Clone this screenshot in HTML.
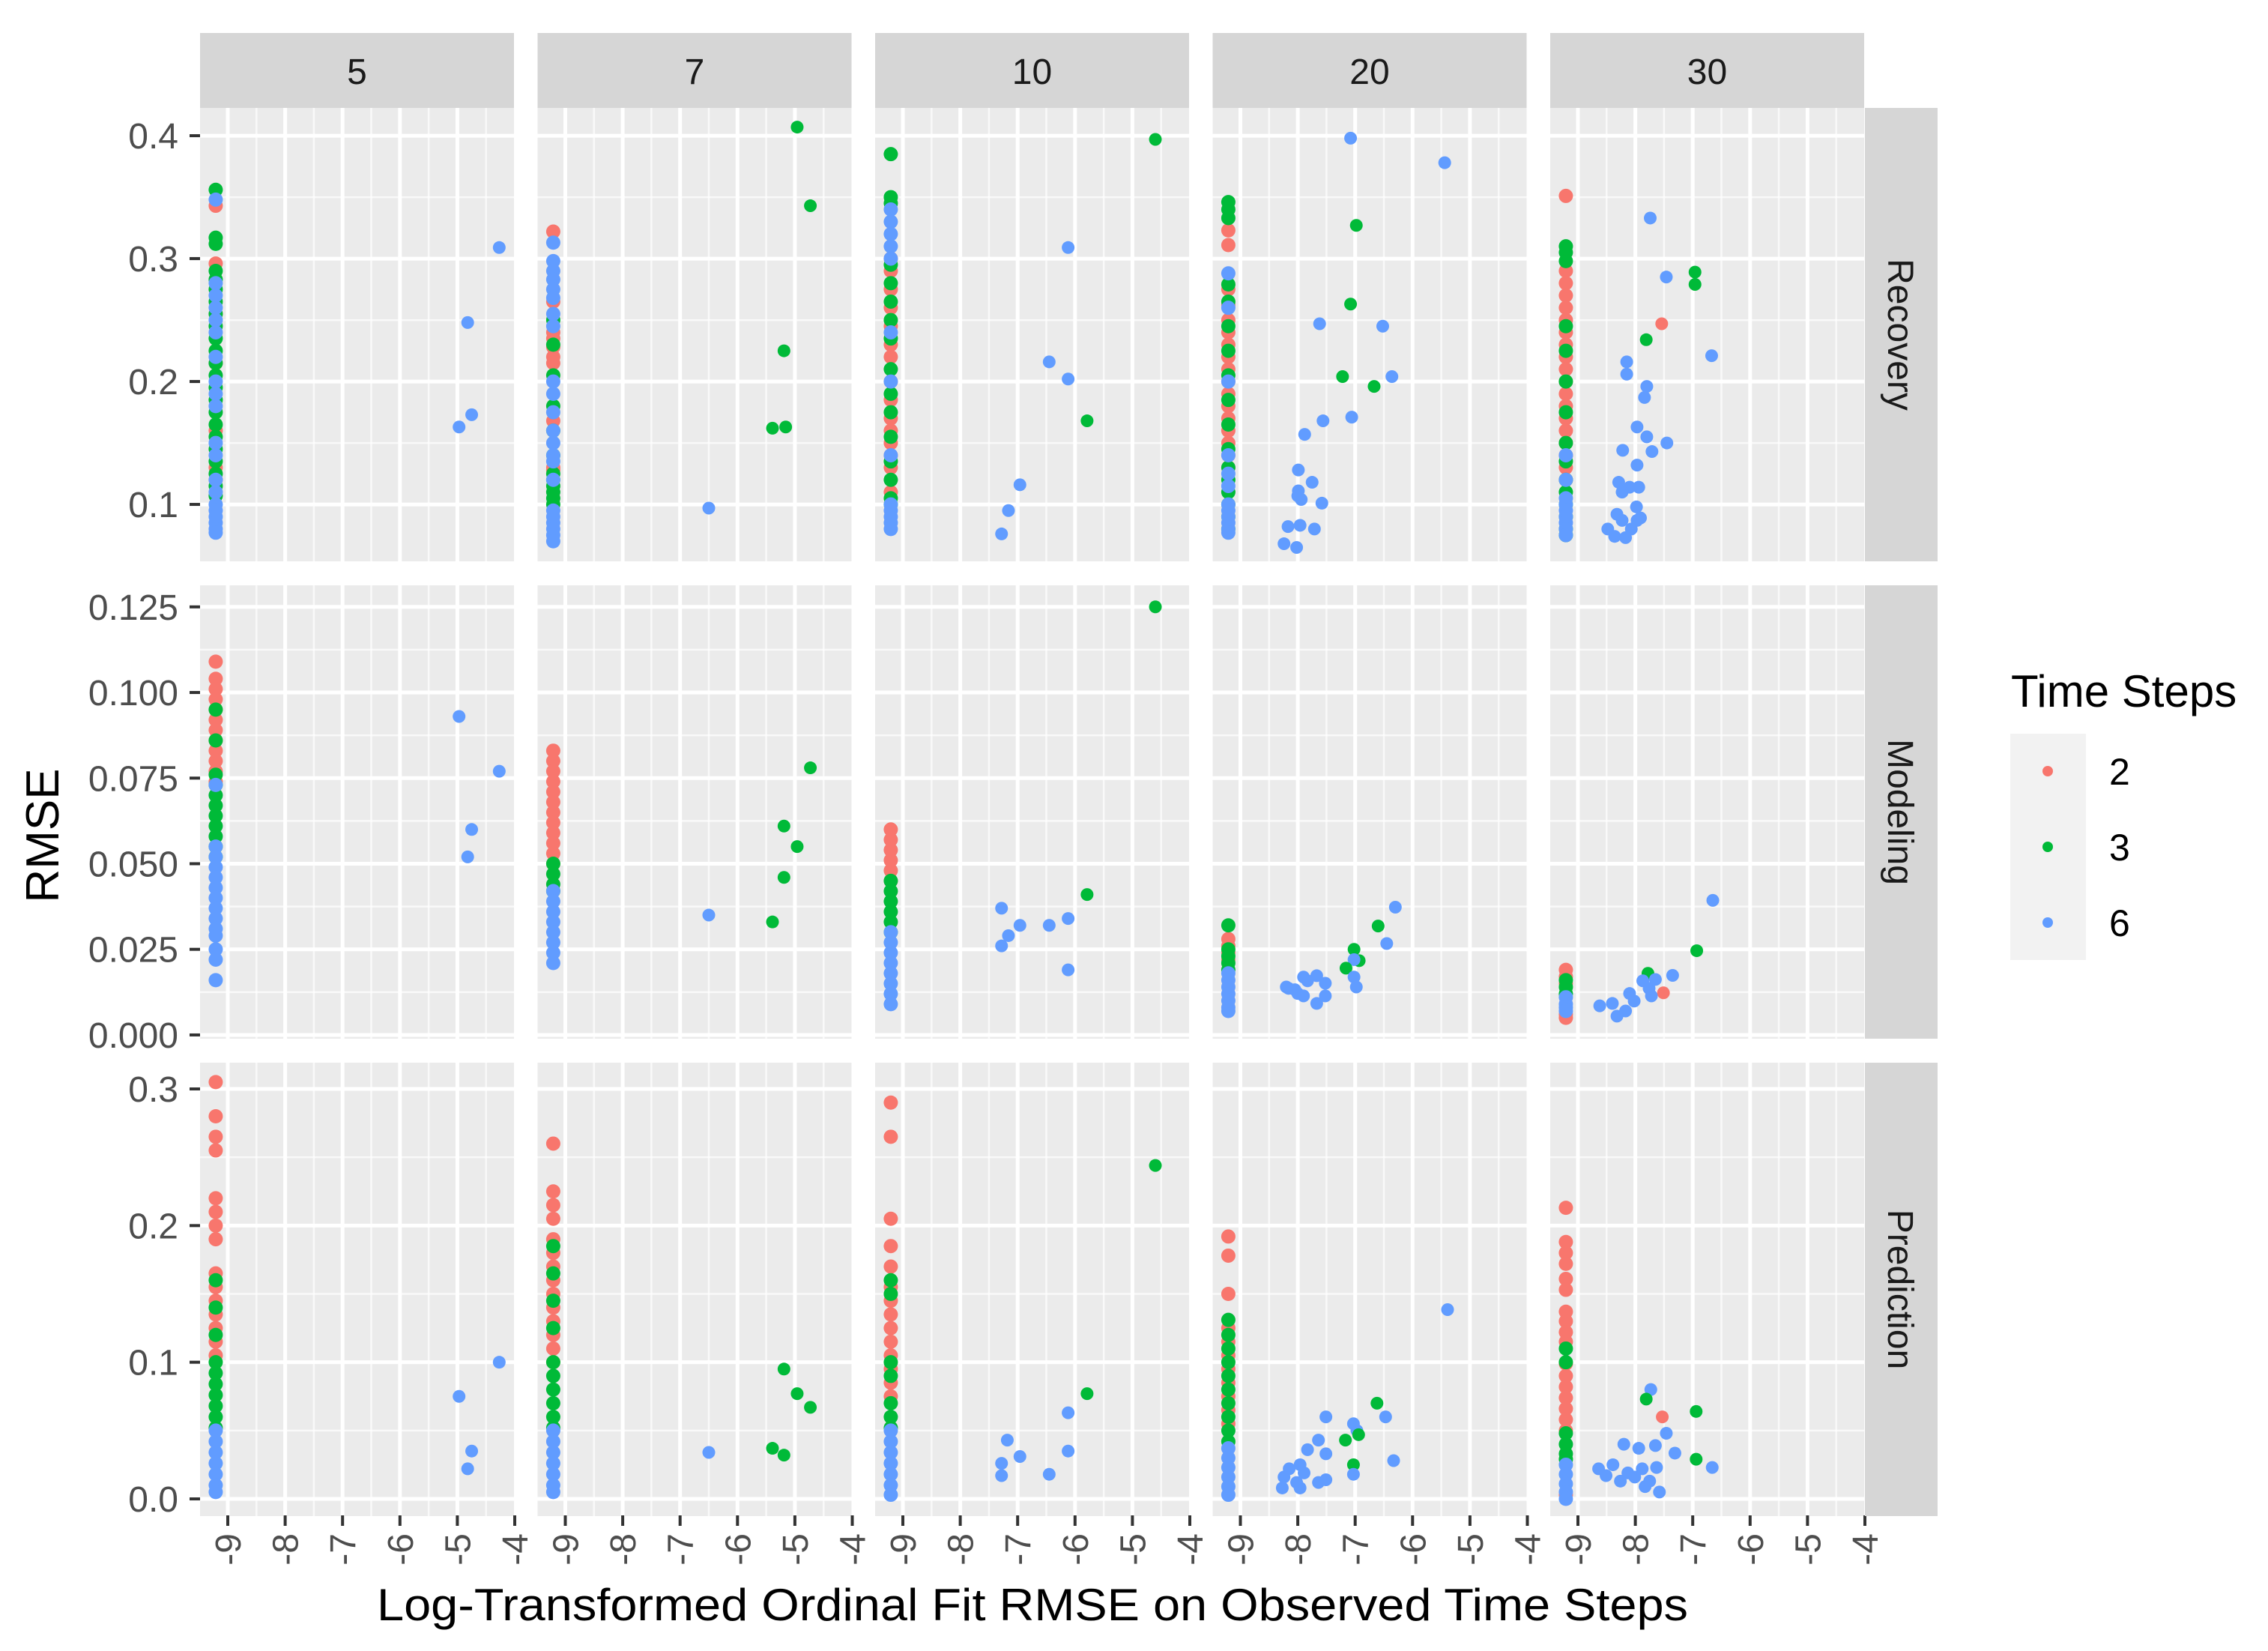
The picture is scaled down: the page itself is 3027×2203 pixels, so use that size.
<!DOCTYPE html>
<html><head><meta charset="utf-8"><style>
html,body{margin:0;padding:0;background:#fff;}
svg{display:block;font-family:"Liberation Sans",Arial,sans-serif;}
</style></head><body>
<svg id="chart" width="3027" height="2203" viewBox="0 0 3027 2203" xmlns="http://www.w3.org/2000/svg">
<g id="panels"></g>
<g id="points"></g>
<g id="axes"></g>
<text x="1378" y="2162" font-size="60" text-anchor="middle" fill="#000" textLength="1750" lengthAdjust="spacingAndGlyphs">Log-Transformed Ordinal Fit RMSE on Observed Time Steps</text>
<text transform="translate(78,1115) rotate(-90)" font-size="62" text-anchor="middle" fill="#000">RMSE</text>
<g>
<text x="2684" y="943" font-size="60" fill="#000">Time Steps</text>
<rect x="2683" y="979" width="101" height="302" fill="#F2F2F2"/>
<circle cx="2733" cy="1029" r="7" fill="#F8766D"/>
<circle cx="2733" cy="1130" r="7" fill="#00BA38"/>
<circle cx="2733" cy="1231" r="7" fill="#619CFF"/>
<text x="2815" y="1047" font-size="50" fill="#000">2</text>
<text x="2815" y="1148" font-size="50" fill="#000">3</text>
<text x="2815" y="1249" font-size="50" fill="#000">6</text>
</g>
</svg>
<script>
// ---- data ----
const colLabels = ["5","7","10","20","30"];
const rowLabels = ["Recovery","Modeling","Prediction"];
const groupNames = ["2","3","6"];
const xTicks = [-9,-8,-7,-6,-5,-4];
const xTickLabels = ["-9","-8","-7","-6","-5","-4"];
const xMinor = [-8.5,-7.5,-6.5,-5.5,-4.5];
const yTicksR1 = [0.1,0.2,0.3,0.4];
const yLabelsR1 = ["0.1","0.2","0.3","0.4"];
const yMinorR1 = [0.15,0.25,0.35];
const yTicksR2 = [0,0.025,0.05,0.075,0.1,0.125];
const yLabelsR2 = ["0.000","0.025","0.050","0.075","0.100","0.125"];
const yMinorR2 = [0.0125,0.0375,0.0625,0.0875,0.1125];
const yTicksR3 = [0,0.1,0.2,0.3];
const yLabelsR3 = ["0.0","0.1","0.2","0.3"];
const yMinorR3 = [0.05,0.15,0.25];
const stripeX = -9.21;
// stripe values per panel (index row*5+col)
const stripeRed = [
[0.343,0.296,0.255,0.215,0.16,0.13,0.12],
[0.322,0.265,0.24,0.235,0.228,0.22,0.215,0.168,0.13,0.128],
[0.3,0.29,0.275,0.26,0.245,0.23,0.22,0.2,0.185,0.17,0.16,0.15,0.14,0.13,0.11],
[0.323,0.311,0.275,0.262,0.25,0.24,0.23,0.22,0.21,0.2,0.19,0.18,0.17,0.16,0.15,0.14,0.13],
[0.351,0.29,0.28,0.27,0.26,0.25,0.24,0.23,0.22,0.21,0.2,0.19,0.18,0.17,0.16,0.15,0.14,0.13,0.12],
[0.109,0.104,0.101,0.098,0.095,0.092,0.089,0.086,0.083,0.08,0.077,0.074],
[0.083,0.08,0.077,0.074,0.071,0.068,0.065,0.062,0.059,0.056,0.053,0.05],
[0.06,0.057,0.054,0.051,0.048,0.045],
[0.028,0.026,0.024,0.022],
[0.019,0.017,0.015,0.006,0.005],
[0.305,0.28,0.265,0.255,0.22,0.21,0.2,0.19,0.165,0.155,0.145,0.135,0.125,0.115,0.105],
[0.26,0.225,0.215,0.205,0.19,0.18,0.17,0.16,0.15,0.14,0.13,0.12,0.11,0.1],
[0.29,0.265,0.205,0.185,0.17,0.155,0.145,0.135,0.125,0.115,0.105,0.095,0.085,0.075],
[0.192,0.178,0.15,0.125,0.115,0.105,0.095,0.085,0.075,0.065,0.055],
[0.213,0.188,0.18,0.172,0.161,0.153,0.137,0.13,0.122,0.115,0.099,0.09,0.082,0.074,0.066,0.058,0.05,0.003]
];
const stripeGreen = [
[0.356,0.317,0.312,0.29,0.283,0.275,0.265,0.255,0.245,0.235,0.225,0.215,0.205,0.195,0.185,0.175,0.165,0.155,0.145,0.135,0.125,0.115,0.107],
[0.25,0.23,0.205,0.18,0.16,0.14,0.125,0.12,0.115,0.11,0.105,0.1],
[0.385,0.35,0.345,0.295,0.28,0.265,0.25,0.235,0.21,0.19,0.175,0.155,0.135,0.12,0.105,0.1],
[0.346,0.34,0.333,0.279,0.265,0.245,0.225,0.205,0.185,0.165,0.145,0.13,0.12,0.11,0.1,0.09,0.08],
[0.31,0.305,0.298,0.245,0.225,0.2,0.175,0.15,0.135,0.12,0.11,0.1,0.09,0.08,0.075],
[0.095,0.086,0.076,0.073,0.07,0.067,0.064,0.061,0.058,0.055,0.052],
[0.05,0.047,0.044,0.042],
[0.045,0.042,0.039,0.036,0.033,0.03],
[0.032,0.025,0.023,0.021,0.019],
[0.016,0.014,0.012],
[0.16,0.14,0.12,0.1,0.092,0.084,0.076,0.068,0.06,0.052],
[0.185,0.165,0.145,0.125,0.1,0.09,0.08,0.07,0.06,0.052],
[0.16,0.15,0.1,0.09,0.07,0.06,0.052],
[0.131,0.12,0.11,0.1,0.09,0.08,0.07,0.06,0.05,0.042],
[0.11,0.1,0.048,0.04,0.033,0.029]
];
const stripeBlue = [
[0.348,0.28,0.27,0.26,0.25,0.24,0.22,0.2,0.19,0.18,0.15,0.14,0.12,0.11,0.1,0.095,0.09,0.085,0.08,0.077],
[0.313,0.298,0.29,0.283,0.275,0.268,0.255,0.245,0.2,0.19,0.175,0.16,0.15,0.14,0.135,0.12,0.095,0.09,0.085,0.08,0.075,0.07],
[0.34,0.33,0.32,0.31,0.3,0.24,0.2,0.14,0.1,0.095,0.09,0.085,0.08],
[0.288,0.26,0.2,0.14,0.125,0.115,0.1,0.095,0.09,0.085,0.08,0.077],
[0.14,0.12,0.105,0.1,0.095,0.09,0.085,0.08,0.075],
[0.073,0.055,0.052,0.049,0.046,0.043,0.04,0.037,0.034,0.031,0.029,0.025,0.022,0.016],
[0.042,0.039,0.036,0.033,0.03,0.027,0.024,0.021],
[0.03,0.027,0.024,0.021,0.018,0.015,0.012,0.009],
[0.018,0.016,0.014,0.012,0.01,0.008,0.007],
[0.011,0.009,0.008,0.007],
[0.05,0.042,0.034,0.026,0.018,0.01,0.005],
[0.05,0.042,0.034,0.026,0.018,0.01,0.005],
[0.05,0.042,0.034,0.026,0.018,0.01,0.003],
[0.037,0.03,0.023,0.016,0.009,0.003],
[0.025,0.018,0.011,0.005,0.0]
];
// scattered points
const ptPanel = [
0,0,0,0,
1,1,1,1,1,1,
2,2,2,2,2,2,2,2,
3,3,3,3,3,3,3,3,3,3,3,3,3,3,3,3,3,3,3,3,3,3,3,
4,4,4,4,4,4,4,4,4,4,4,4,4,4,4,4,4,4,4,4,4,4,4,4,4,4,4,4,4,4,
5,5,5,5,
6,6,6,6,6,6,
7,7,7,7,7,7,7,7,7,
8,8,8,8,8,8,8,8,8,8,8,8,8,8,8,8,8,8,8,8,
9,9,9,9,9,9,9,9,9,9,9,9,9,9,9,
10,10,10,10,
11,11,11,11,11,11,
12,12,12,12,12,12,12,12,12,
13,13,13,13,13,13,13,13,13,13,13,13,13,13,13,13,13,13,13,13,13,13,13,
14,14,14,14,14,14,14,14,14,14,14,14,14,14,14,14,14,14,14,14,14,14
];
const ptX = [
-4.27,-4.82,-4.97,-4.75,
-4.96,-4.73,-5.19,-5.39,-5.16,-6.5,
-4.6,-6.12,-6.45,-6.12,-5.79,-6.96,-7.16,-7.28,
-7.08,-5.44,-6.98,-7.08,-7.62,-6.52,-7.22,-6.36,-6.67,-7.06,-7.56,-7.88,-7.99,-7.75,-7.99,-7.94,-7.58,-7.96,-7.71,-8.17,-8.24,-8.02,-8.0,
-7.74,-7.46,-6.96,-6.96,-7.54,-7.81,-6.67,-8.15,-8.15,-7.8,-7.84,-7.97,-7.8,-7.45,-7.71,-8.22,-7.97,-8.29,-8.1,-7.94,-8.23,-7.98,-8.32,-8.23,-7.97,-7.91,-8.48,-8.07,-8.36,-8.17,
-4.97,-4.27,-4.75,-4.82,
-4.73,-5.19,-4.96,-5.19,-5.39,-6.5,
-4.6,-5.79,-6.12,-6.45,-6.96,-7.28,-7.16,-7.28,-6.12,
-6.3,-6.6,-6.45,-7.02,-6.93,-7.02,-7.16,-7.02,-6.98,-8.2,-8.05,-7.9,-7.9,-7.67,-7.52,-7.52,-7.67,-8.0,-8.16,-7.83,
-6.65,-6.93,-7.78,-7.35,-7.51,-7.87,-7.72,-8.1,-8.4,-8.62,-8.17,-8.02,-8.32,-7.76,-7.65,
-4.97,-4.27,-4.75,-4.82,
-5.19,-4.96,-4.73,-5.39,-5.19,-6.5,
-4.6,-5.79,-6.12,-6.12,-7.18,-6.96,-7.28,-7.28,-6.45,
-5.39,-6.62,-6.47,-7.51,-7.03,-6.97,-6.94,-7.17,-7.64,-7.83,-7.51,-6.33,-7.03,-7.03,-8.15,-8.24,-7.96,-7.89,-8.02,-7.96,-7.64,-7.51,-8.27,
-7.73,-7.81,-6.94,-7.53,-7.46,-7.31,-8.2,-7.94,-7.65,-7.63,-6.94,-6.66,-8.64,-8.39,-8.13,-8.26,-8.01,-7.75,-8.51,-7.88,-7.58,-7.83
];
const ptY = [
0.309,0.248,0.163,0.173,
0.407,0.343,0.225,0.162,0.163,0.097,
0.397,0.309,0.216,0.202,0.168,0.116,0.095,0.076,
0.398,0.378,0.327,0.263,0.247,0.245,0.204,0.204,0.196,0.171,0.168,0.157,0.128,0.118,0.111,0.104,0.101,0.083,0.08,0.082,0.068,0.065,0.107,
0.333,0.285,0.289,0.279,0.247,0.234,0.221,0.216,0.206,0.196,0.187,0.163,0.155,0.15,0.143,0.144,0.132,0.118,0.114,0.114,0.11,0.098,0.092,0.087,0.087,0.089,0.08,0.08,0.074,0.073,
0.093,0.077,0.06,0.052,
0.078,0.061,0.055,0.046,0.033,0.035,
0.125,0.041,0.034,0.032,0.032,0.037,0.029,0.026,0.019,
0.0373,0.0318,0.0267,0.025,0.0217,0.022,0.0195,0.0169,0.014,0.014,0.0132,0.0169,0.0114,0.0173,0.0151,0.0114,0.0092,0.0121,0.0136,0.0158,
0.0393,0.0246,0.018,0.0174,0.0123,0.0158,0.0114,0.0121,0.0092,0.0085,0.007,0.0099,0.0055,0.0136,0.0162,
0.075,0.1,0.035,0.022,
0.095,0.077,0.067,0.037,0.032,0.034,
0.244,0.077,0.063,0.035,0.043,0.031,0.026,0.017,0.018,
0.1385,0.07,0.06,0.06,0.055,0.05,0.047,0.043,0.043,0.036,0.033,0.028,0.025,0.018,0.022,0.016,0.025,0.019,0.012,0.008,0.012,0.014,0.008,
0.08,0.073,0.064,0.06,0.048,0.0335,0.04,0.037,0.039,0.023,0.029,0.023,0.022,0.025,0.019,0.013,0.016,0.013,0.017,0.022,0.005,0.009
];
const ptGroup = [
2,2,2,2,
1,1,1,1,1,2,
1,2,2,2,1,2,2,2,
2,2,1,1,2,2,1,2,1,2,2,2,2,2,2,2,2,2,2,2,2,2,2,
2,2,1,1,0,1,2,2,2,2,2,2,2,2,2,2,2,2,2,2,2,2,2,2,2,2,2,2,2,2,
2,2,2,2,
1,1,1,1,1,2,
1,1,2,2,2,2,2,2,2,
2,1,2,1,1,2,1,2,2,2,2,2,2,2,2,2,2,2,2,2,
2,1,1,2,0,2,2,2,2,2,2,2,2,2,2,
2,2,2,2,
1,1,1,1,1,2,
1,1,2,2,2,2,2,2,2,
2,1,2,2,2,2,1,1,2,2,2,2,1,2,2,2,2,2,2,2,2,2,2,
2,1,1,0,2,2,2,2,2,2,1,2,2,2,2,2,2,2,2,2,2,2
];
// ---- layout ----
const NS = "http://www.w3.org/2000/svg";
const colors = ["#F8766D","#00BA38","#619CFF"];
const panelLeft0 = 267, panelStep = 450.5, panelW = 419;
const rowTop = [144,781,1418], panelH = 605;
const xDom = [-9.483,-4.013];
const yDom = [[0.0537,0.4226],[-0.0011,0.1313],[-0.0126,0.3192]];
const yTickSets = [yTicksR1,yTicksR2,yTicksR3];
const yLabelSets = [yLabelsR1,yLabelsR2,yLabelsR3];
const yMinorSets = [yMinorR1,yMinorR2,yMinorR3];
function xs(c,v){return panelLeft0+panelStep*c+(v-xDom[0])/(xDom[1]-xDom[0])*panelW;}
function ys(r,v){return rowTop[r]+panelH-(v-yDom[r][0])/(yDom[r][1]-yDom[r][0])*panelH;}
function mk(tag,attrs,parent){const e=document.createElementNS(NS,tag);for(const k in attrs)e.setAttribute(k,attrs[k]);parent.appendChild(e);return e;}
const gP=document.getElementById("panels"), gPt=document.getElementById("points"), gA=document.getElementById("axes");
for(let r=0;r<3;r++){
 for(let c=0;c<5;c++){
  const L=panelLeft0+panelStep*c, T=rowTop[r];
  const bg=mk("rect",{x:L,y:T,width:panelW,height:panelH,fill:"#EBEBEB"},gP);
  
  
  yMinorSets[r].forEach(v=>{const y=ys(r,v);if(y>T&&y<T+panelH){const l=mk("line",{x1:L,x2:L+panelW,y1:y,y2:y,stroke:"#fff","stroke-width":2.5,"stroke-opacity":0.7},gP);
   
   }});
  xMinor.forEach(v=>{const x=xs(c,v);const l=mk("line",{x1:x,x2:x,y1:T,y2:T+panelH,stroke:"#fff","stroke-width":2.5,"stroke-opacity":0.7},gP);
   
   });
  yTickSets[r].forEach(v=>{const y=ys(r,v);if(y>T&&y<T+panelH){const l=mk("line",{x1:L,x2:L+panelW,y1:y,y2:y,stroke:"#fff","stroke-width":5},gP);
   
   }});
  xTicks.forEach(v=>{const x=xs(c,v);if(x>L&&x<L+panelW-2){const l=mk("line",{x1:x,x2:x,y1:T,y2:T+panelH,stroke:"#fff","stroke-width":5},gP);
   
   }});
  const p=r*5+c;
  [[stripeRed[p],0],[stripeGreen[p],1],[stripeBlue[p],2]].forEach(([arr,g])=>{
   arr.forEach(v=>{const d=mk("circle",{cx:xs(c,stripeX),cy:ys(r,v),r:9.5,fill:colors[g]},gPt);
    
    });
  });
 }
}
for(let i=0;i<ptX.length;i++){
 const p=ptPanel[i], r=Math.floor(p/5), c=p%5;
 const d=mk("circle",{cx:xs(c,ptX[i]),cy:ys(r,ptY[i]),r:8.5,fill:colors[ptGroup[i]]},gPt);
 
 
}
for(let c=0;c<5;c++){
 const L=panelLeft0+panelStep*c;
 const s=mk("rect",{x:L,y:44,width:panelW,height:100,fill:"#D6D6D6"},gA);
 
 
 const t=mk("text",{x:L+panelW/2,y:112,"font-size":48,"text-anchor":"middle",fill:"#1A1A1A"},gA);
 t.textContent=colLabels[c];
 
 
 xTicks.forEach((v,k)=>{const x=xs(c,v);
  const tk=mk("line",{x1:x,x2:x,y1:2022,y2:2036,stroke:"#333","stroke-width":4},gA);
  
  
  const lb=mk("text",{transform:`translate(${x+17},2046) rotate(-90)`,"font-size":48,"text-anchor":"end",fill:"#4D4D4D"},gA);
  lb.textContent=xTickLabels[k];
  
  });
}
for(let r=0;r<3;r++){
 const T=rowTop[r];
 const s=mk("rect",{x:2489,y:T,width:97,height:panelH,fill:"#D6D6D6"},gA);
 
 
 const t=mk("text",{transform:`translate(2520,${T+panelH/2}) rotate(90)`,"font-size":48,"text-anchor":"middle",fill:"#1A1A1A"},gA);
 t.textContent=rowLabels[r];
 
 
 yTickSets[r].forEach((v,k)=>{const y=ys(r,v);
  const tk=mk("line",{x1:253,x2:267,y1:y,y2:y,stroke:"#333","stroke-width":4},gA);
  
  
  const lb=mk("text",{x:238,y:y+17,"font-size":48,"text-anchor":"end",fill:"#4D4D4D"},gA);
  lb.textContent=yLabelSets[r][k];
  
  });
}
</script>
</body></html>
